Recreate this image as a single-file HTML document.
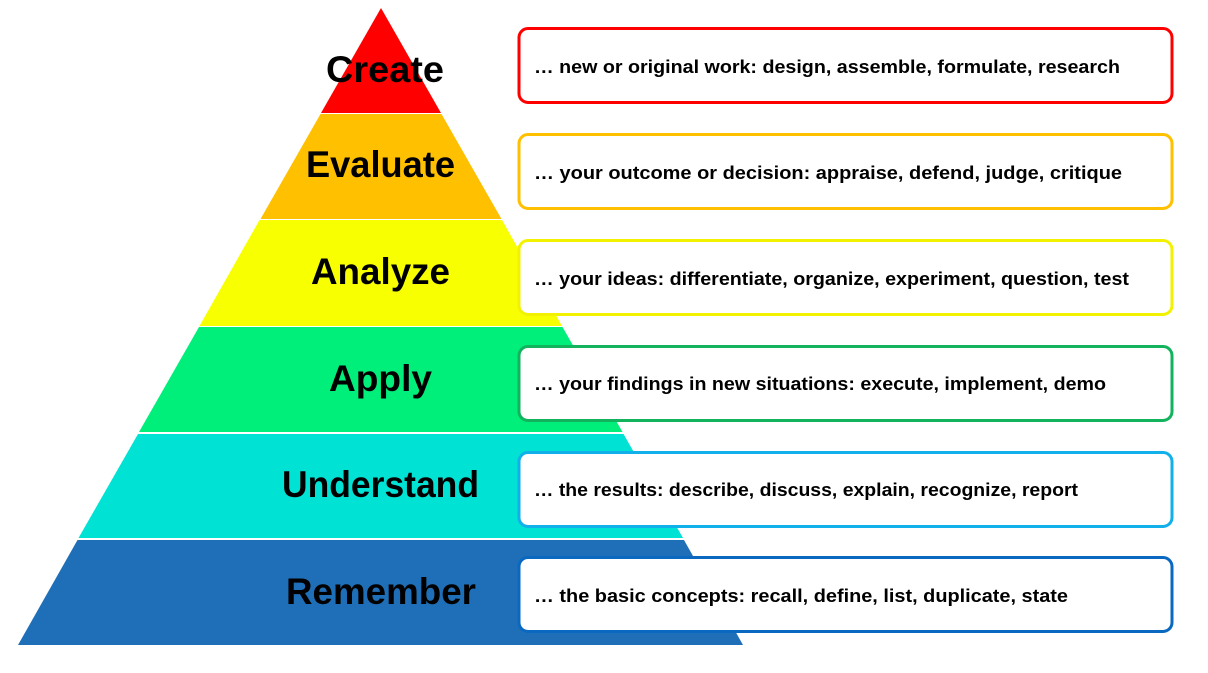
<!DOCTYPE html>
<html><head><meta charset="utf-8"><style>
html,body{margin:0;padding:0;background:#fff;}
svg{display:block;}
.l{font-family:"Liberation Sans",sans-serif;font-weight:bold;font-size:37px;fill:#000;}
.t{font-family:"Liberation Sans",sans-serif;font-weight:bold;font-size:18px;fill:#000;}
</style></head><body>
<svg width="1208" height="673" viewBox="0 0 1208 673" xmlns="http://www.w3.org/2000/svg">
<polygon points="381,8 441,113 321,113" fill="#ff0000"/>
<polygon points="320.5,114 441.5,114 501.5,219 260.5,219" fill="#ffc000"/>
<polygon points="259.5,220 502,220 562,326 199.5,326" fill="#f8ff00"/>
<polygon points="199,327 562.5,327 622.5,432 139,432" fill="#00ee7a"/>
<polygon points="138,434 623.5,434 683,538 78.5,538" fill="#00e2d4"/>
<polygon points="77.5,540 684,540 743,645 18,645" fill="#1f6fb8"/>
<text class="l" x="326" y="82" textLength="118" lengthAdjust="spacingAndGlyphs">Create</text>
<text class="l" x="306" y="177" textLength="149" lengthAdjust="spacingAndGlyphs">Evaluate</text>
<text class="l" x="311" y="284" textLength="139" lengthAdjust="spacingAndGlyphs">Analyze</text>
<text class="l" x="329" y="391" textLength="103" lengthAdjust="spacingAndGlyphs">Apply</text>
<text class="l" x="282" y="497" textLength="197" lengthAdjust="spacingAndGlyphs">Understand</text>
<text class="l" x="286" y="604" textLength="190" lengthAdjust="spacingAndGlyphs">Remember</text>
<g fill="#fff" stroke-width="3">
<rect x="519" y="28.5" width="653" height="74" rx="9" stroke="#ff0000"/>
<rect x="519" y="134.5" width="653" height="74" rx="9" stroke="#ffc000"/>
<rect x="519" y="240.5" width="653" height="74" rx="9" stroke="#f2f200"/>
<rect x="519" y="346.5" width="653" height="74" rx="9" stroke="#13b35e"/>
<rect x="519" y="452.5" width="653" height="74" rx="9" stroke="#12b0ea"/>
<rect x="519" y="557.5" width="653" height="74" rx="9" stroke="#0a68c0"/>
</g>
<text class="t" x="534" y="73" textLength="586" lengthAdjust="spacingAndGlyphs">… new or original work: design, assemble, formulate, research</text>
<text class="t" x="534" y="179" textLength="588" lengthAdjust="spacingAndGlyphs">… your outcome or decision: appraise, defend, judge, critique</text>
<text class="t" x="534" y="285" textLength="595" lengthAdjust="spacingAndGlyphs">… your ideas: differentiate, organize, experiment, question, test</text>
<text class="t" x="534" y="390" textLength="572" lengthAdjust="spacingAndGlyphs">… your findings in new situations: execute, implement, demo</text>
<text class="t" x="534" y="496" textLength="544" lengthAdjust="spacingAndGlyphs">… the results: describe, discuss, explain, recognize, report</text>
<text class="t" x="534" y="602" textLength="534" lengthAdjust="spacingAndGlyphs">… the basic concepts: recall, define, list, duplicate, state</text>
</svg>
</body></html>
